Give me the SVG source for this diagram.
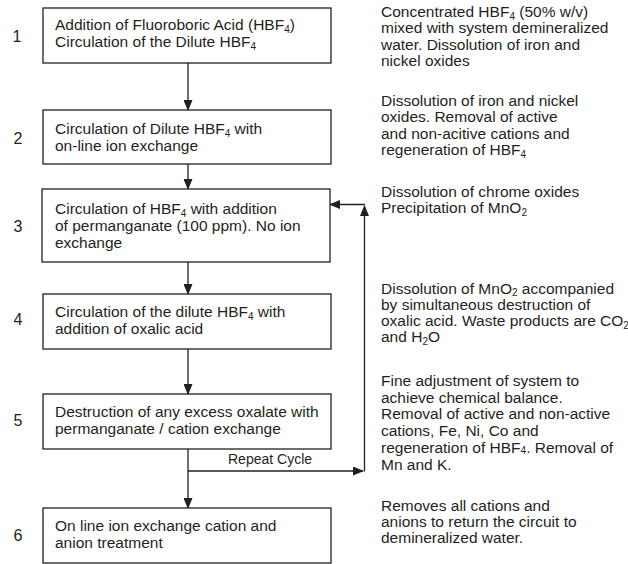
<svg xmlns="http://www.w3.org/2000/svg" width="628" height="564" viewBox="0 0 628 564">
<style>
text{font-family:"Liberation Sans",Arial,sans-serif;font-size:15.5px;fill:#231f20}
.num{font-size:16px;text-anchor:middle}
.rc{font-size:14px}
.s{font-size:10px}
.box{fill:#fff;stroke:#231f20;stroke-width:1.3}
.ln{fill:none;stroke:#231f20;stroke-width:1.3}
</style>
<defs>
<marker id="ah" markerUnits="userSpaceOnUse" markerWidth="11" markerHeight="9" refX="10" refY="4.5" orient="auto">
<path d="M0,0 L11,4.5 L0,9 z" fill="#231f20"/>
</marker>
</defs>
<rect width="628" height="564" fill="#fff"/>
<g id="connectors">
<line class="ln" x1="188" y1="63" x2="188" y2="110" marker-end="url(#ah)"/>
<line class="ln" x1="188" y1="164" x2="188" y2="189" marker-end="url(#ah)"/>
<line class="ln" x1="188" y1="262" x2="188" y2="294" marker-end="url(#ah)"/>
<line class="ln" x1="188" y1="349" x2="188" y2="394" marker-end="url(#ah)"/>
<line class="ln" x1="188" y1="449" x2="188" y2="508" marker-end="url(#ah)"/>
<line class="ln" x1="188" y1="471" x2="363" y2="471" marker-end="url(#ah)"/>
<line class="ln" x1="364.5" y1="471.5" x2="364.5" y2="206" marker-end="url(#ah)"/>
<line class="ln" x1="365" y1="204.5" x2="330" y2="204.5" marker-end="url(#ah)"/>
<text class="rc" x="228" y="464">Repeat Cycle</text>
</g>
<g id="step1">
<text class="num" x="17" y="42">1</text>
<rect class="box" x="43" y="8" width="288" height="55"/>
<text x="55" y="30">Addition of Fluoroboric Acid (HBF<tspan class="s" dy="2.5">4</tspan><tspan dy="-2.5">)</tspan></text>
<text x="55" y="47">Circulation of the Dilute HBF<tspan class="s" dy="2.5">4</tspan></text>
</g>
<g id="step2">
<text class="num" x="18" y="144">2</text>
<rect class="box" x="43" y="110" width="288" height="54"/>
<text x="55" y="134">Circulation of Dilute HBF<tspan class="s" dy="2.5">4</tspan><tspan dy="-2.5"> with</tspan></text>
<text x="55" y="151">on-line ion exchange</text>
</g>
<g id="step3">
<text class="num" x="18" y="232">3</text>
<rect class="box" x="42" y="189" width="288" height="73"/>
<text x="55" y="214">Circulation of HBF<tspan class="s" dy="2.5">4</tspan><tspan dy="-2.5"> with addition</tspan></text>
<text x="55" y="231">of permanganate (100 ppm). No ion</text>
<text x="55" y="247.5">exchange</text>
</g>
<g id="step4">
<text class="num" x="18" y="325">4</text>
<rect class="box" x="43" y="294" width="288" height="55"/>
<text x="55" y="317">Circulation of the dilute HBF<tspan class="s" dy="2.5">4</tspan><tspan dy="-2.5"> with</tspan></text>
<text x="55" y="333.5">addition of oxalic acid</text>
</g>
<g id="step5">
<text class="num" x="18" y="426">5</text>
<rect class="box" x="43" y="394" width="288" height="55"/>
<text x="55" y="417">Destruction of any excess oxalate with</text>
<text x="55" y="433.5">permanganate / cation exchange</text>
</g>
<g id="step6">
<text class="num" x="18" y="541">6</text>
<rect class="box" x="43" y="508" width="288" height="55"/>
<text x="55" y="531">On line ion exchange cation and</text>
<text x="55" y="547.5">anion treatment</text>
</g>
<g id="notes">
<text x="381" y="17">Concentrated HBF<tspan class="s" dy="2.5">4</tspan><tspan dy="-2.5"> (50% w/v)</tspan></text>
<text x="381" y="33.3">mixed with system demineralized</text>
<text x="381" y="49.5">water. Dissolution of iron and</text>
<text x="381" y="65.7">nickel oxides</text>
<text x="381" y="106">Dissolution of iron and nickel</text>
<text x="381" y="122.3">oxides. Removal of active</text>
<text x="381" y="138.6">and non-acitive cations and</text>
<text x="381" y="155">regeneration of HBF<tspan class="s" dy="2.5">4</tspan></text>
<text x="381" y="197">Dissolution of chrome oxides</text>
<text x="381" y="213.3">Precipitation of MnO<tspan class="s" dy="2.5">2</tspan></text>
<text x="381" y="293.5">Dissolution of MnO<tspan class="s" dy="2.5">2</tspan><tspan dy="-2.5"> accompanied</tspan></text>
<text x="381" y="309.7">by simultaneous destruction of</text>
<text x="381" y="326">oxalic acid. Waste products are CO<tspan class="s" dy="2.5">2</tspan></text>
<text x="381" y="342.2">and H<tspan class="s" dy="2.5">2</tspan><tspan dy="-2.5">O</tspan></text>
<text x="381" y="386">Fine adjustment of system to</text>
<text x="381" y="402.5">achieve chemical balance.</text>
<text x="381" y="419">Removal of active and non-active</text>
<text x="381" y="436">cations, Fe, Ni, Co and</text>
<text x="381" y="453">regeneration of HBF<tspan class="s" dy="1">4</tspan><tspan dy="-1">. Removal of</tspan></text>
<text x="381" y="470">Mn and K.</text>
<text x="381" y="510.7">Removes all cations and</text>
<text x="381" y="526.9">anions to return the circuit to</text>
<text x="381" y="543">demineralized water.</text>
</g>
</svg>
